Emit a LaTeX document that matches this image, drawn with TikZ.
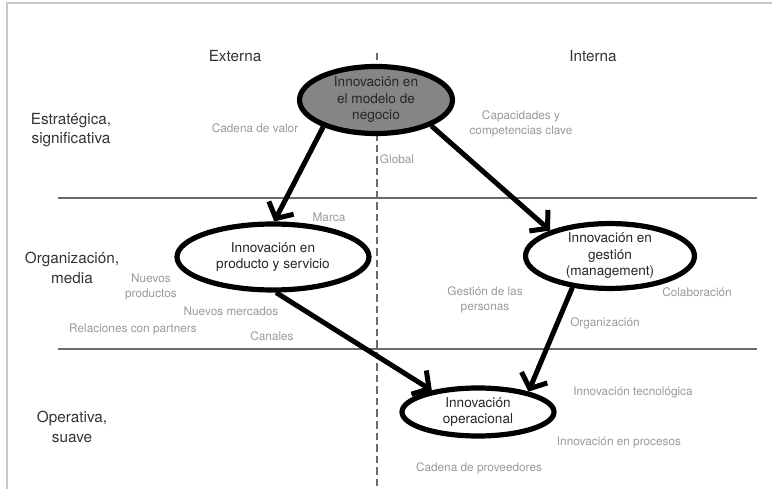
\documentclass[tikz,border=0pt]{standalone}
\usepackage{fontspec}
\setmainfont{TeX Gyre Heros}
\usetikzlibrary{shapes.geometric,arrows.meta}
\definecolor{framegray}{HTML}{C8C8C8}
\definecolor{rowgray}{HTML}{333333}
\definecolor{lblgray}{HTML}{999999}
\definecolor{linegray}{HTML}{6A6A6A}
\definecolor{fillgray}{HTML}{858585}
\tikzset{
  rowlab/.style={font=\fontsize{15.3}{19.5}\selectfont, text=rowgray, align=center, inner sep=0pt},
  glab/.style={font=\fontsize{11.8}{15}\selectfont, text=lblgray, align=center, inner sep=0pt},
  inno/.style={ellipse, draw=black, line width=5.2pt, font=\fontsize{13.6}{16.5}\selectfont, text=black!85, align=center, inner sep=0pt},
  arr/.style={line width=5pt, -{Straight Barb[length=12pt,width=28pt]}},
  sepline/.style={draw=linegray, line width=2.2pt},
}
\begin{document}
\begin{tikzpicture}[x=1pt,y=-1pt]
\useasboundingbox (0,0) rectangle (772,489);
% frame
\coordinate (f1) at (7,489);
\coordinate (f2) at (7,3);
\coordinate (f3) at (772,3);
\draw[framegray, line width=1.2pt] (f1) -- (f2) -- (f3);
% separators
\coordinate (h1a) at (58,198);
\coordinate (h1b) at (757,198);
\coordinate (h2a) at (58,349);
\coordinate (h2b) at (757,349);
\draw[sepline] (h1a) -- (h1b);
\draw[sepline] (h2a) -- (h2b);
\coordinate (v1) at (377,53);
\coordinate (v2) at (377,489);
\draw[draw=linegray, line width=2.3pt, dash pattern=on 7.5pt off 4pt] (v1) -- (v2);
% headings
\node[rowlab] (ext) at (235,56) {Externa};
\node[rowlab] (int) at (593,56) {Interna};
\node[rowlab] (r1) at (71,130) {Estratégica,\\significativa};
\node[rowlab] (r2) at (72,268) {Organización,\\media};
\node[rowlab] (r3) at (72,427) {Operativa,\\suave};
% ellipses
\node[inno, fill=fillgray, minimum width=153pt, minimum height=67pt] (top) at (376,100) {Innovación en\\el modelo de\\negocio};
\node[inno, minimum width=192pt, minimum height=66pt] (prod) at (273,257) {Innovación en\\producto y servicio};
\node[inno, minimum width=169pt, minimum height=63pt] (gest) at (610,256) {Innovación en\\gestión\\(management)};
\node[inno, minimum width=152pt, minimum height=48pt] (oper) at (478,412) {Innovación\\operacional};
% arrows
\draw[arr] (top.207) -- (prod.88);
\draw[arr] (top.335) -- (gest.157);
\draw[arr] (prod.-85) -- (oper.155);
\draw[arr] (gest.220) -- (oper.22);
% gray labels
\node[glab] (l1) at (255,128) {Cadena de valor};
\node[glab] (l2) at (397,159) {Global};
\node[glab] (l3) at (521,124) {Capacidades y\\competencias clave};
\node[glab] (l4) at (329,217) {Marca};
\node[glab] (l5) at (151,287) {Nuevos\\productos};
\node[glab] (l6) at (231,311) {Nuevos mercados};
\node[glab] (l7) at (133,329) {Relaciones con partners};
\node[glab] (l8) at (272,336) {Canales};
\node[glab] (l9) at (485,300) {Gestión de las\\personas};
\node[glab] (l10) at (697,292) {Colaboración};
\node[glab] (l11) at (605,323) {Organización};
\node[glab] (l12) at (633,392) {Innovación tecnológica};
\node[glab] (l13) at (619,442) {Innovación en procesos};
\node[glab] (l14) at (479,468) {Cadena de proveedores};
\end{tikzpicture}
\end{document}
